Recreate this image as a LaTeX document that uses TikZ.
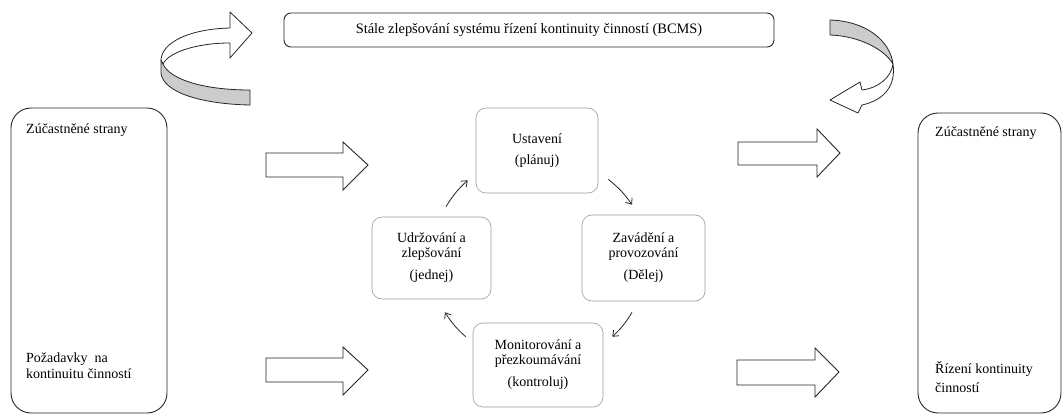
\documentclass[tikz,border=0pt]{standalone}
\usepackage{fontspec}
\setmainfont{Liberation Serif}
\usetikzlibrary{arrows.meta,calc}
\begin{document}
\begin{tikzpicture}[x=1pt,y=-1pt,
 bigbox/.style={draw=black!85, line width=0.9pt, rounded corners=20pt, inner sep=0pt},
 topbox/.style={draw=black!85, line width=0.9pt, rounded corners=7pt, inner sep=0pt, font=\fontsize{14.4}{15}\selectfont},
 cyclebox/.style={draw=black!40, line width=0.6pt, rounded corners=10pt, inner sep=0pt, align=center, font=\fontsize{14}{15}\selectfont},
 lbl/.style={font=\fontsize{14}{16}\selectfont, inner sep=0pt, align=left, anchor=west},
 blockarrow/.style={draw=black!85, line width=0.9pt, fill=white, line join=miter},
 ribbon/.style={draw=black!85, line width=0.8pt, line join=round},
 cyc/.style={-{Straight Barb[length=5pt,width=8pt]}, line width=0.8pt, draw=black!85}
]
\useasboundingbox (0,0) rectangle (1062,414);

% top box
\node[topbox, minimum width=490pt, minimum height=34pt] (top) at (529,30) {Stále zlepšování systému řízení kontinuity činností (BCMS)};

% side boxes
\node[bigbox, minimum width=156pt, minimum height=305pt] (left) at (89,260.5) {};
\node[bigbox, minimum width=143pt, minimum height=300pt] (right) at (989.5,263) {};
\node[lbl] (l1) at (26,130) {Zúčastněné strany};
\node[lbl] (l2) at (26,366) {Požadavky\ \ na\\kontinuitu činností};
\node[lbl] (r1) at (935,133) {Zúčastněné strany};
\node[lbl, font=\fontsize{14}{19}\selectfont] (r2) at (935,377.5) {Řízení kontinuity\\činností};

% cycle boxes
\node[cyclebox, minimum width=122pt, minimum height=85pt] (ust) at (537,150.5) {Ustavení\\[6pt](plánuj)};
\node[cyclebox, minimum width=119pt, minimum height=82pt] (udr) at (431.5,258) {Udržování a\\zlepšování\\[7pt](jednej)};
\node[cyclebox, minimum width=123pt, minimum height=86pt] (zav) at (643.5,258) {Zavádění a\\provozování\\[7pt](Dělej)};
\node[cyclebox, minimum width=130pt, minimum height=84pt] (mon) at (538,365) {Monitorování a\\přezkoumávání\\[7pt](kontroluj)};

% cycle connectors
\draw[cyc] ([shift={(14.5,-10)}]udr.north) to[bend left=8] ([shift={(-8,-13)}]ust.south west);
\draw[cyc] ([shift={(10,-14)}]ust.south east) to[bend left=8] ([shift={(-11.5,-10)}]zav.north);
\draw[cyc] ([shift={(-11.5,11)}]zav.south) to[bend left=8] ([shift={(9,14)}]mon.north east);
\draw[cyc] ([shift={(-7,14)}]mon.north west) to[bend left=8] ([shift={(13.5,13)}]udr.south);

% block arrows
\draw[blockarrow] (266,153) -- (343,153) -- (343,142) -- (368,165) -- (343,190) -- (343,177) -- (266,177) -- cycle;
\draw[blockarrow] (266,358) -- (343,358) -- (343,347) -- (368,370) -- (343,395) -- (343,382) -- (266,382) -- cycle;
\draw[blockarrow] (738,142) -- (817,142) -- (817,129) -- (840,153) -- (817,177) -- (817,165) -- (738,165) -- cycle;
\draw[blockarrow] (737,360) -- (815,360) -- (815,348) -- (839,372) -- (815,397) -- (815,385) -- (737,385) -- cycle;

% left curled arrow
\draw[ribbon, fill=black!20] (161,60) -- (161,73) .. controls (163,92) and (200,104) .. (250,105) -- (250,90) .. controls (205,90) and (170,80) .. (163,64) -- cycle;
\draw[ribbon, fill=white] (161,60) .. controls (162,42) and (190,29) .. (230,28) -- (230,12) -- (252,33) -- (230,58) -- (230,43) .. controls (195,43) and (168,53) .. (163,64) -- cycle;

% right curled arrow
\draw[ribbon, fill=black!20] (830,20) .. controls (865,21) and (890,40) .. (893,64) .. controls (885,50) and (860,36) .. (830,35) -- cycle;
\draw[ribbon, fill=white] (893,64) .. controls (891,78) and (878,88) .. (862,90) -- (860,82) -- (830,100) -- (858,113) -- (862,105) .. controls (885,100) and (896,85) .. (893,64) -- cycle;
\end{tikzpicture}
\end{document}
